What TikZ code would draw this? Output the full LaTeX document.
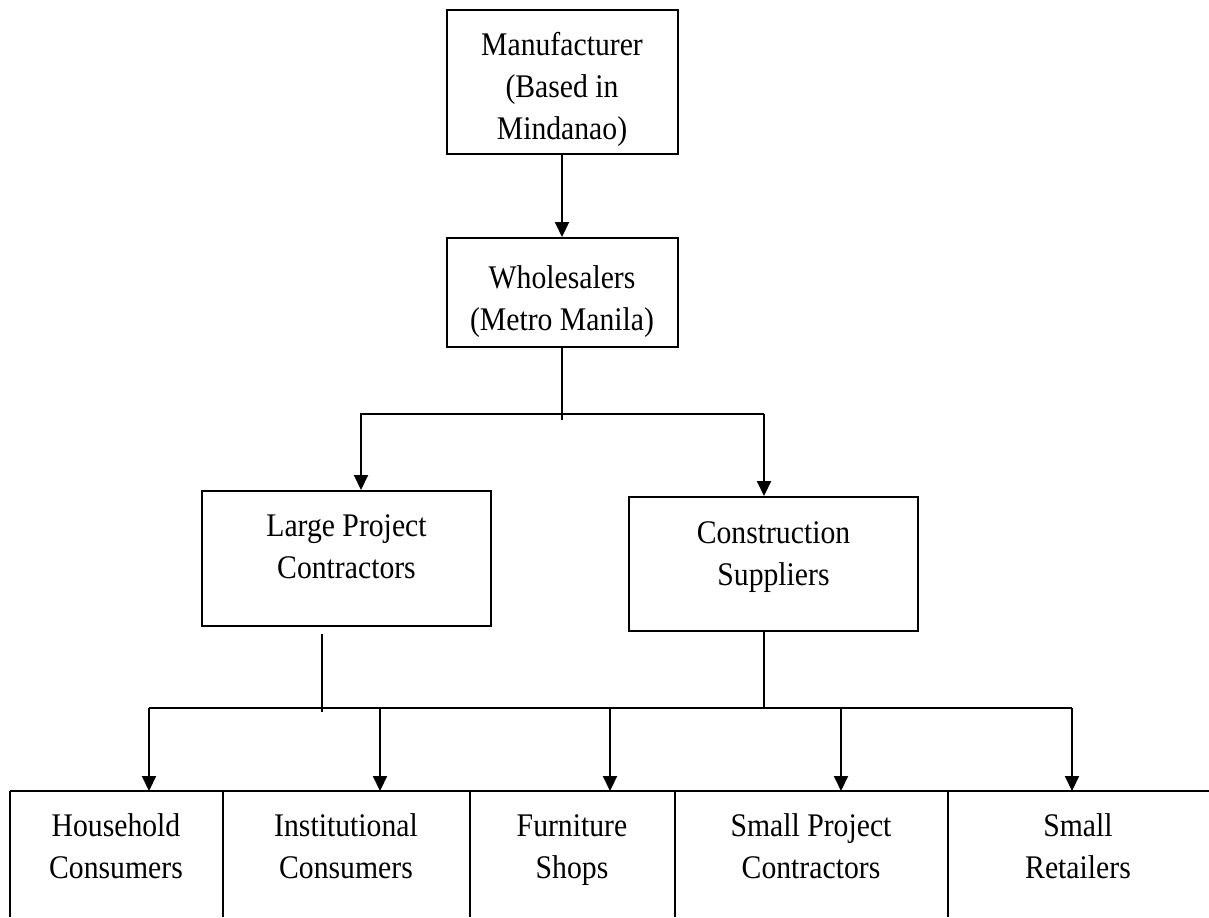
\documentclass[tikz,border=0pt]{standalone}
\usepackage{fontspec}
\setmainfont[FakeStretch=0.9]{Liberation Serif}
\usetikzlibrary{arrows.meta}
\begin{document}
\begin{tikzpicture}[x=0.5pt,y=-0.5pt,
  box/.style={draw, line width=1pt, inner sep=0pt},
  lbl/.style={font=\fontsize{16.5}{21}\selectfont, align=center, inner sep=0pt},
  wire/.style={line width=1pt},
  arr/.style={line width=1pt, -{Triangle[width=7pt,length=7.5pt]}}]
\useasboundingbox (0,0) rectangle (1209,917);
% boxes
\node[box, minimum width=115.5pt, minimum height=72pt] (man) at (562,82) {};
\node[lbl] (mant) at (562,89) {\strut Manufacturer\\(Based in\\Mindanao)\strut};
\node[box, minimum width=115.5pt, minimum height=54.5pt] (who) at (562,292.5) {};
\node[lbl] (whot) at (562,301) {\strut Wholesalers\\(Metro Manila)\strut};
\node[box, minimum width=144.5pt, minimum height=67.5pt] (lp) at (346.5,558.5) {};
\node[lbl] (lpt) at (346.5,549) {\strut Large Project\\Contractors\strut};
\node[box, minimum width=144.5pt, minimum height=67pt] (cs) at (773.5,564) {};
\node[lbl] (cst) at (773.5,556) {\strut Construction\\Suppliers\strut};
% bottom row texts
\node[lbl] (hh) at (116,849) {\strut Household\\Consumers\strut};
\node[lbl] (inst) at (346,849) {\strut Institutional\\Consumers\strut};
\node[lbl] (furn) at (572,849) {\strut Furniture\\Shops\strut};
\node[lbl] (spc) at (811,849) {\strut Small Project\\Contractors\strut};
\node[lbl] (sret) at (1078,849) {\strut Small\\Retailers\strut};
% bottom row frame
\coordinate (rowL) at (10,791);
\coordinate (rowR) at (1209,791);
\draw[wire] (rowL) -- (rowR);
\draw[wire] (10,791) -- (10,917);
\draw[wire] (223,791) -- (223,917);
\draw[wire] (470,791) -- (470,917);
\draw[line width=1.4pt] (675,791) -- (675,917);
\draw[wire] (948,791) -- (948,917);
% connectors
\draw[arr] (man.south) -- (who.north);
\coordinate (w1) at (562,420);
\draw[wire] (who.south) -- (w1);
\coordinate (b1l) at (361,414);
\coordinate (b1r) at (764,414);
\draw[wire] (360,414) -- (b1r);
\draw[arr] (b1l) -- (b1l |- lp.north);
\draw[arr] (b1r) -- (b1r |- cs.north);
\coordinate (lpd) at (322,634);
\coordinate (lpe) at (322,712);
\draw[wire] (lpd) -- (lpe);
\coordinate (csd) at (764,708);
\draw[wire] (cs.south -| csd) -- (csd);
\coordinate (b2l) at (149,708);
\coordinate (b2r) at (1072,708);
\draw[wire] (b2l) -- (b2r);
\coordinate (a2) at (380,708);
\coordinate (a3) at (610,708);
\coordinate (a4) at (841,708);
\draw[arr] (b2l) -- (b2l |- rowL);
\draw[arr] (a2) -- (a2 |- rowL);
\draw[arr] (a3) -- (a3 |- rowL);
\draw[arr] (a4) -- (a4 |- rowL);
\draw[arr] (b2r) -- (b2r |- rowL);
\end{tikzpicture}
\end{document}
